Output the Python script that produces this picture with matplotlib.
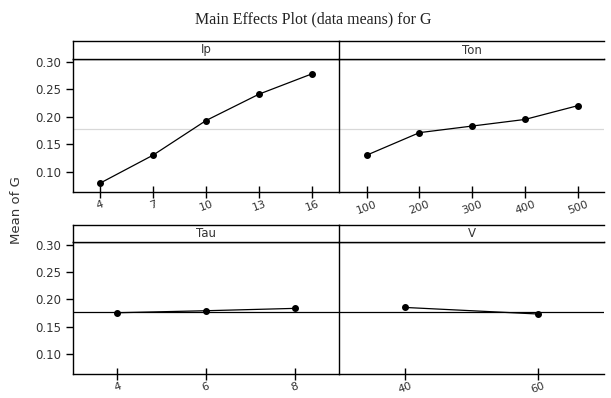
import matplotlib
matplotlib.use("Agg")
import matplotlib.pyplot as plt

# Data
ip_levels = [4, 7, 10, 13, 16]
ip_means = [0.079, 0.130, 0.193, 0.241, 0.278]
ton_levels = [100, 200, 300, 400, 500]
ton_means = [0.130, 0.171, 0.183, 0.195, 0.220]
tau_levels = [4, 6, 8]
tau_means = [0.1753, 0.179, 0.1833]
v_levels = [40, 60]
v_means = [0.185, 0.173]
grand_mean = 0.177

yticks = [0.10, 0.15, 0.20, 0.25, 0.30]
ytick_labels = ["0.10", "0.15", "0.20", "0.25", "0.30"]

W, H = 611, 398
fig = plt.figure(figsize=(W / 100, H / 100), dpi=100)
fig.patch.set_facecolor("white")


def rect(x0, y0, x1, y1):
    return [x0 / W, 1 - y1 / H, (x1 - x0) / W, (y1 - y0) / H]


panels = [
    ("Ip", ip_levels, ip_means, (2.47, 17.53), 73, 339, 41, 59, 192, True, "#d8d8d8"),
    ("Ton", ton_levels, ton_means, (47.5, 550), 339, 604, 41, 59, 192, False, "#d8d8d8"),
    ("Tau", tau_levels, tau_means, (3.0, 9.0), 73, 339, 225, 242, 374, True, "black"),
    ("V", v_levels, v_means, (30, 70), 339, 604, 225, 242, 374, False, "black"),
]

for name, lv, mv, xl, x0, x1, ys0, ys1, yb, left, mcol in panels:
    ax = fig.add_axes(rect(x0, ys1, x1, yb))
    ax.set_xlim(*xl)
    ax.set_ylim(0.063, 0.305)
    ax.axhline(grand_mean, color=mcol, lw=0.9, zorder=1)
    ax.plot(lv, mv, color="black", lw=0.9, marker="o", markersize=4, zorder=3)
    ax.spines["right"].set_visible(False)
    for s in ["left", "bottom", "top"]:
        ax.spines[s].set_linewidth(1.0)
    ax.set_xticks(lv)
    ax.set_xticklabels([str(v) for v in lv], rotation=20, fontsize=8, color="#333333")
    ax.tick_params(axis="x", direction="inout", length=8, width=1.0, pad=1)
    if left:
        ax.set_yticks(yticks)
        ax.set_yticklabels(ytick_labels, fontsize=8.5, color="#333333")
        ax.tick_params(axis="y", direction="out", length=5, width=1.0)
    else:
        ax.set_yticks([])
    # strip
    sx = fig.add_axes(rect(x0, ys0, x1, ys1))
    sx.set_xticks([])
    sx.set_yticks([])
    sx.spines["right"].set_visible(False)
    for s in ["left", "bottom", "top"]:
        sx.spines[s].set_linewidth(1.0)
    sx.text(0.5, 0.5, name, ha="center", va="center", fontsize=8.5, color="#333333",
            transform=sx.transAxes)

fig.text(313 / W, 1 - 19 / H, "Main Effects Plot (data means) for G", ha="center", va="center",
         fontsize=11.5, family="Liberation Serif", color="#222222")
fig.text(16 / W, 1 - 210 / H, "Mean of G", ha="center", va="center", rotation=90,
         fontsize=9.5, color="#333333")

fig.savefig("out.png", dpi=100, facecolor="white")
